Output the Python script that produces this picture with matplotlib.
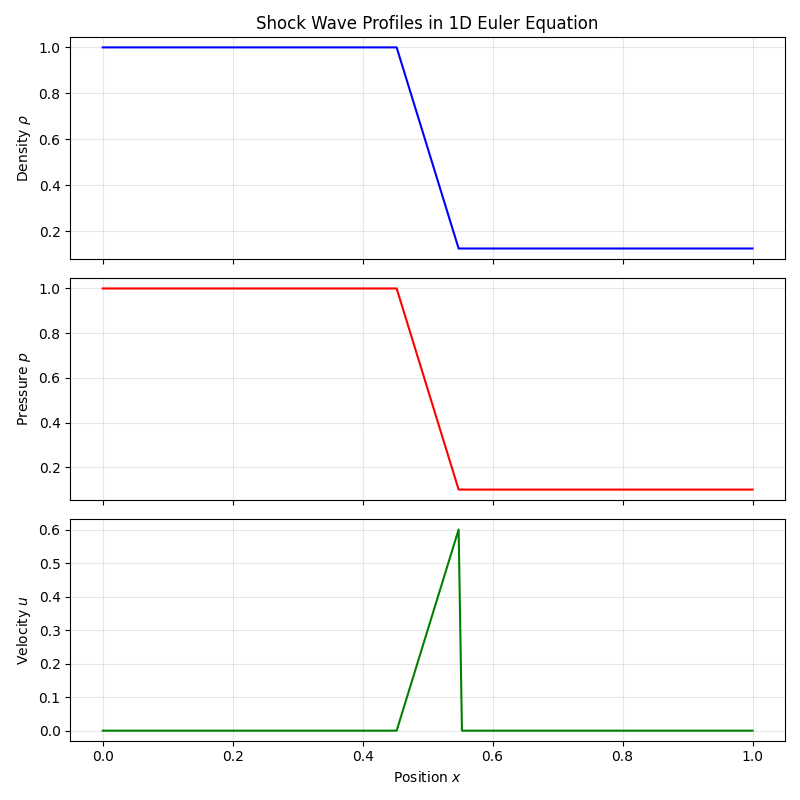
import matplotlib
matplotlib.use("Agg")
import matplotlib.pyplot as plt

x_pos = [0.0, 0.4523, 0.5477, 0.5528, 1.0]
density = [1.0, 1.0, 0.125, 0.125, 0.125]
pressure = [1.0, 1.0, 0.1, 0.1, 0.1]
velocity = [0.0, 0.0, 0.6, 0.0, 0.0]

fig, axes = plt.subplots(3, 1, figsize=(8, 8), sharex=True)
axes[0].plot(x_pos, density, color='blue')
axes[0].set_ylabel(r'Density $\rho$')
axes[0].set_title('Shock Wave Profiles in 1D Euler Equation')
axes[1].plot(x_pos, pressure, color='red')
axes[1].set_ylabel(r'Pressure $p$')
axes[2].plot(x_pos, velocity, color='green')
axes[2].set_ylabel(r'Velocity $u$')
axes[2].set_xlabel(r'Position $x$')
for ax in axes:
    ax.grid(True, alpha=0.3)
fig.tight_layout()
fig.savefig('out.png', dpi=100)
